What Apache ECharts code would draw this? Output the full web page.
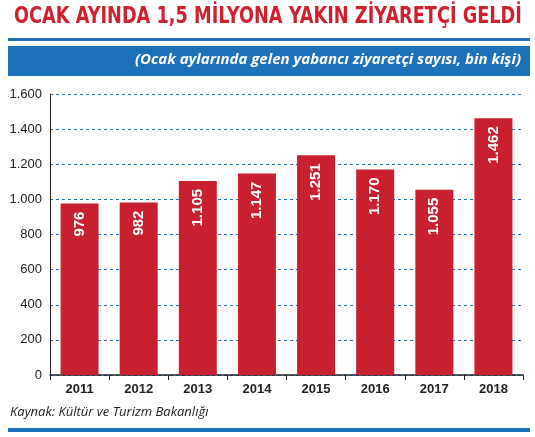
<!DOCTYPE html>
<html><head><meta charset="utf-8">
<script src="https://cdn.jsdelivr.net/npm/echarts@6/dist/echarts.min.js"></script>
<style>html,body{margin:0;padding:0;background:#fff}#c{width:535px;height:437px}</style>
</head><body><div id="c"></div>
<script>
const years = ['2011','2012','2013','2014','2015','2016','2017','2018'];
const visitors = [976, 982, 1105, 1147, 1251, 1170, 1055, 1462];
const yTicks = [0, 200, 400, 600, 800, 1000, 1200, 1400, 1600];
const fmt = v => String(v).replace(/\B(?=(\d{3})+(?!\d))/g, '.');
const chart = echarts.init(document.getElementById('c'));
chart.setOption({
  animation: false,
  grid: {left: 50, right: 12, top: 94, bottom: 62},
  graphic: [
    {type:'text', x: 14, y: 6, scaleX: 0.77, style:{text:'OCAK AYINDA 1,5 MİLYONA YAKIN ZİYARETÇİ GELDİ', fill:'#d0202e', font:'bold 23px "DejaVu Sans", sans-serif'}},
    {type:'rect', shape:{x:8, y:38, width:522, height:3}, style:{fill:'#1d71b8'}},
    {type:'rect', shape:{x:8, y:46, width:522, height:30}, style:{fill:'#1d71b8'}},
    {type:'text', right: 14, top: 52, style:{text:'(Ocak aylarında gelen yabancı ziyaretçi sayısı, bin kişi)', fill:'#fff', font:'italic bold 15px "Open Sans", sans-serif'}},
    {type:'text', left: 10, top: 406, style:{text:'Kaynak: Kültür ve Turizm Bakanlığı', fill:'#222', font:'italic 13px "Open Sans", sans-serif'}},
    {type:'rect', shape:{x:8, y:428, width:522, height:4}, style:{fill:'#1d71b8'}}
  ],
  xAxis: {type:'category', data: years,
    axisLine:{lineStyle:{color:'#222', width:1.5}}, axisTick:{show:true, alignWithLabel:false, length:5, lineStyle:{color:'#222'}},
    axisLabel:{color:'#222', fontSize:13, fontFamily:'"Liberation Sans Narrow", sans-serif', fontWeight:'bold', margin:8}},
  yAxis: {type:'value', min:0, max:1600, interval:200,
    axisLabel:{color:'#222', fontSize:13, fontFamily:'"Liberation Sans Narrow", sans-serif', formatter: v => fmt(v)},
    splitLine:{lineStyle:{color:'#1d71b8', type:[3,3], width:1}},
    axisLine:{show:true, lineStyle:{color:'#222'}}},
  series: [{type:'bar', data: visitors, barWidth: 38,
    itemStyle:{color:'#c9202f'},
    label:{show:true, position:'insideTop', rotate:90, align:'right', verticalAlign:'middle', distance:8,
      color:'#fff', fontSize:15, fontWeight:'bold', fontFamily:'"Liberation Sans Narrow", sans-serif',
      formatter: p => fmt(p.value)}}]
});
</script></body></html>
